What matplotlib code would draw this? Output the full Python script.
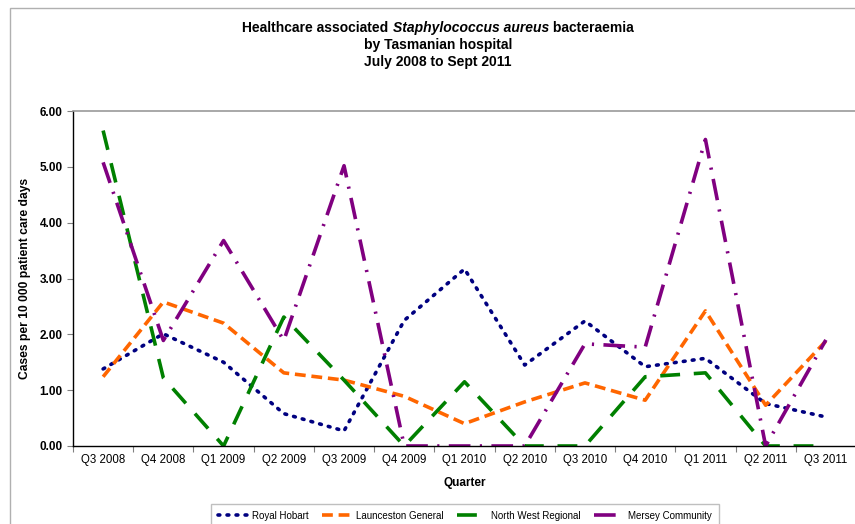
import matplotlib
matplotlib.use("Agg")
import matplotlib.pyplot as plt
from matplotlib.patches import Rectangle
from matplotlib.ticker import FormatStrFormatter

plt.rcParams['font.family'] = ['Liberation Sans', 'DejaVu Sans']

quarters = ["Q3 2008", "Q4 2008", "Q1 2009", "Q2 2009", "Q3 2009", "Q4 2009", "Q1 2010",
            "Q2 2010", "Q3 2010", "Q4 2010", "Q1 2011", "Q2 2011", "Q3 2011"]
royal_hobart = [1.38, 2.01, 1.50, 0.58, 0.27, 2.25, 3.17, 1.45, 2.24, 1.42, 1.57, 0.76, 0.52]
launceston = [1.24, 2.58, 2.20, 1.31, 1.18, 0.89, 0.40, 0.79, 1.13, 0.82, 2.42, 0.73, 1.88]
north_west = [5.65, 1.22, 0.00, 2.31, 1.18, 0.00, 1.15, 0.00, 0.00, 1.24, 1.31, 0.00, 0.00]
mersey = [5.08, 1.89, 3.68, 1.89, 5.02, 0.00, 0.00, 0.00, 1.83, 1.77, 5.49, 0.00, 1.90]
yticks = [0.0, 1.0, 2.0, 3.0, 4.0, 5.0, 6.0]

W, H = 855, 524
fig = plt.figure(figsize=(W / 100, H / 100), dpi=100)
fig.patches.append(Rectangle((10 / W, -0.1), 1.2, 1 - 8 / H + 0.1, transform=fig.transFigure,
                             fill=False, edgecolor='#b0b0b0', linewidth=1.0))

ax = fig.add_axes([73 / W, 1 - 446 / H, (856 - 73) / W, (446 - 111) / H])
x = list(range(len(quarters)))
lw = 2.6
ax.plot(x, royal_hobart, color='#000080', linewidth=lw, linestyle=(0, (0.5, 2.0)),
        dash_capstyle='round', label='Royal Hobart')
ax.plot(x, launceston, color='#FF6600', linewidth=lw, linestyle=(0, (3.0, 1.6)),
        label='Launceston General')
ax.plot(x, north_west, color='#008000', linewidth=lw, linestyle=(0, (5.5, 3.8)),
        label='North West Regional')
ax.plot(x, mersey, color='#800080', linewidth=lw, linestyle=(0, (6.0, 2.6, 0.6, 2.6)),
        label='Mersey Community')

ax.set_xlim(-0.5, len(quarters) - 0.5)
ax.set_ylim(0, 6)
ax.set_yticks(yticks)
ax.yaxis.set_major_formatter(FormatStrFormatter('%.2f'))
ax.set_xticks(x)
ax.set_xticklabels(quarters, fontsize=8.3)
ax.set_xticks([i - 0.5 for i in range(len(quarters) + 1)], minor=True)
ax.tick_params(axis='x', which='major', length=0, pad=6)
ax.tick_params(axis='x', which='minor', length=4, width=0.8, color='#808080')
ax.tick_params(axis='y', length=4, width=0.8, color='#808080', labelsize=8.5)
for lab in ax.get_yticklabels():
    lab.set_fontweight('bold')

ax.spines['right'].set_visible(False)
ax.spines['top'].set_color('#999999')
ax.spines['top'].set_linewidth(1.2)
ax.spines['left'].set_color('black')
ax.spines['bottom'].set_color('black')
ax.spines['left'].set_linewidth(1.0)
ax.spines['bottom'].set_linewidth(1.0)

ax.set_xlabel('Quarter', fontsize=8.5, fontweight='bold', labelpad=8)
ax.set_ylabel('Cases per 10 000 patient care days', fontsize=8.7, fontweight='bold', labelpad=6)

# Title: first line with an italic part
tfs = 10
tcx = 438
renderer = fig.canvas.get_renderer()
parts = [('Healthcare associated ', 'normal'), ('Staphylococcus aureus', 'italic'), (' bacteraemia', 'normal')]
texts = []
widths = []
for s, st in parts:
    t = fig.text(0, 1 - 28 / H, s, ha='left', va='center', fontsize=tfs, fontweight='bold', fontstyle=st)
    bb = t.get_window_extent(renderer=renderer)
    texts.append(t)
    widths.append(bb.width)
total = sum(widths)
xpos = tcx - total / 2
for t, w in zip(texts, widths):
    t.set_x(xpos / W)
    xpos += w
fig.text(tcx / W, 1 - 45 / H, 'by Tasmanian hospital', ha='center', va='center', fontsize=tfs, fontweight='bold')
fig.text(tcx / W, 1 - 62 / H, 'July 2008 to Sept 2011', ha='center', va='center', fontsize=tfs, fontweight='bold')

leg = fig.legend(loc='upper left', bbox_to_anchor=(211 / W, 0, (719 - 211) / W, 1 - 504 / H),
                 ncol=4, mode='expand', fontsize=7, frameon=True, fancybox=False,
                 handlelength=3.0, borderaxespad=0, columnspacing=1.0, handletextpad=0.5,
                 borderpad=0.7)
leg.get_frame().set_edgecolor('#b0b0b0')
leg.get_frame().set_linewidth(1.0)

fig.savefig('out.png', dpi=100)
